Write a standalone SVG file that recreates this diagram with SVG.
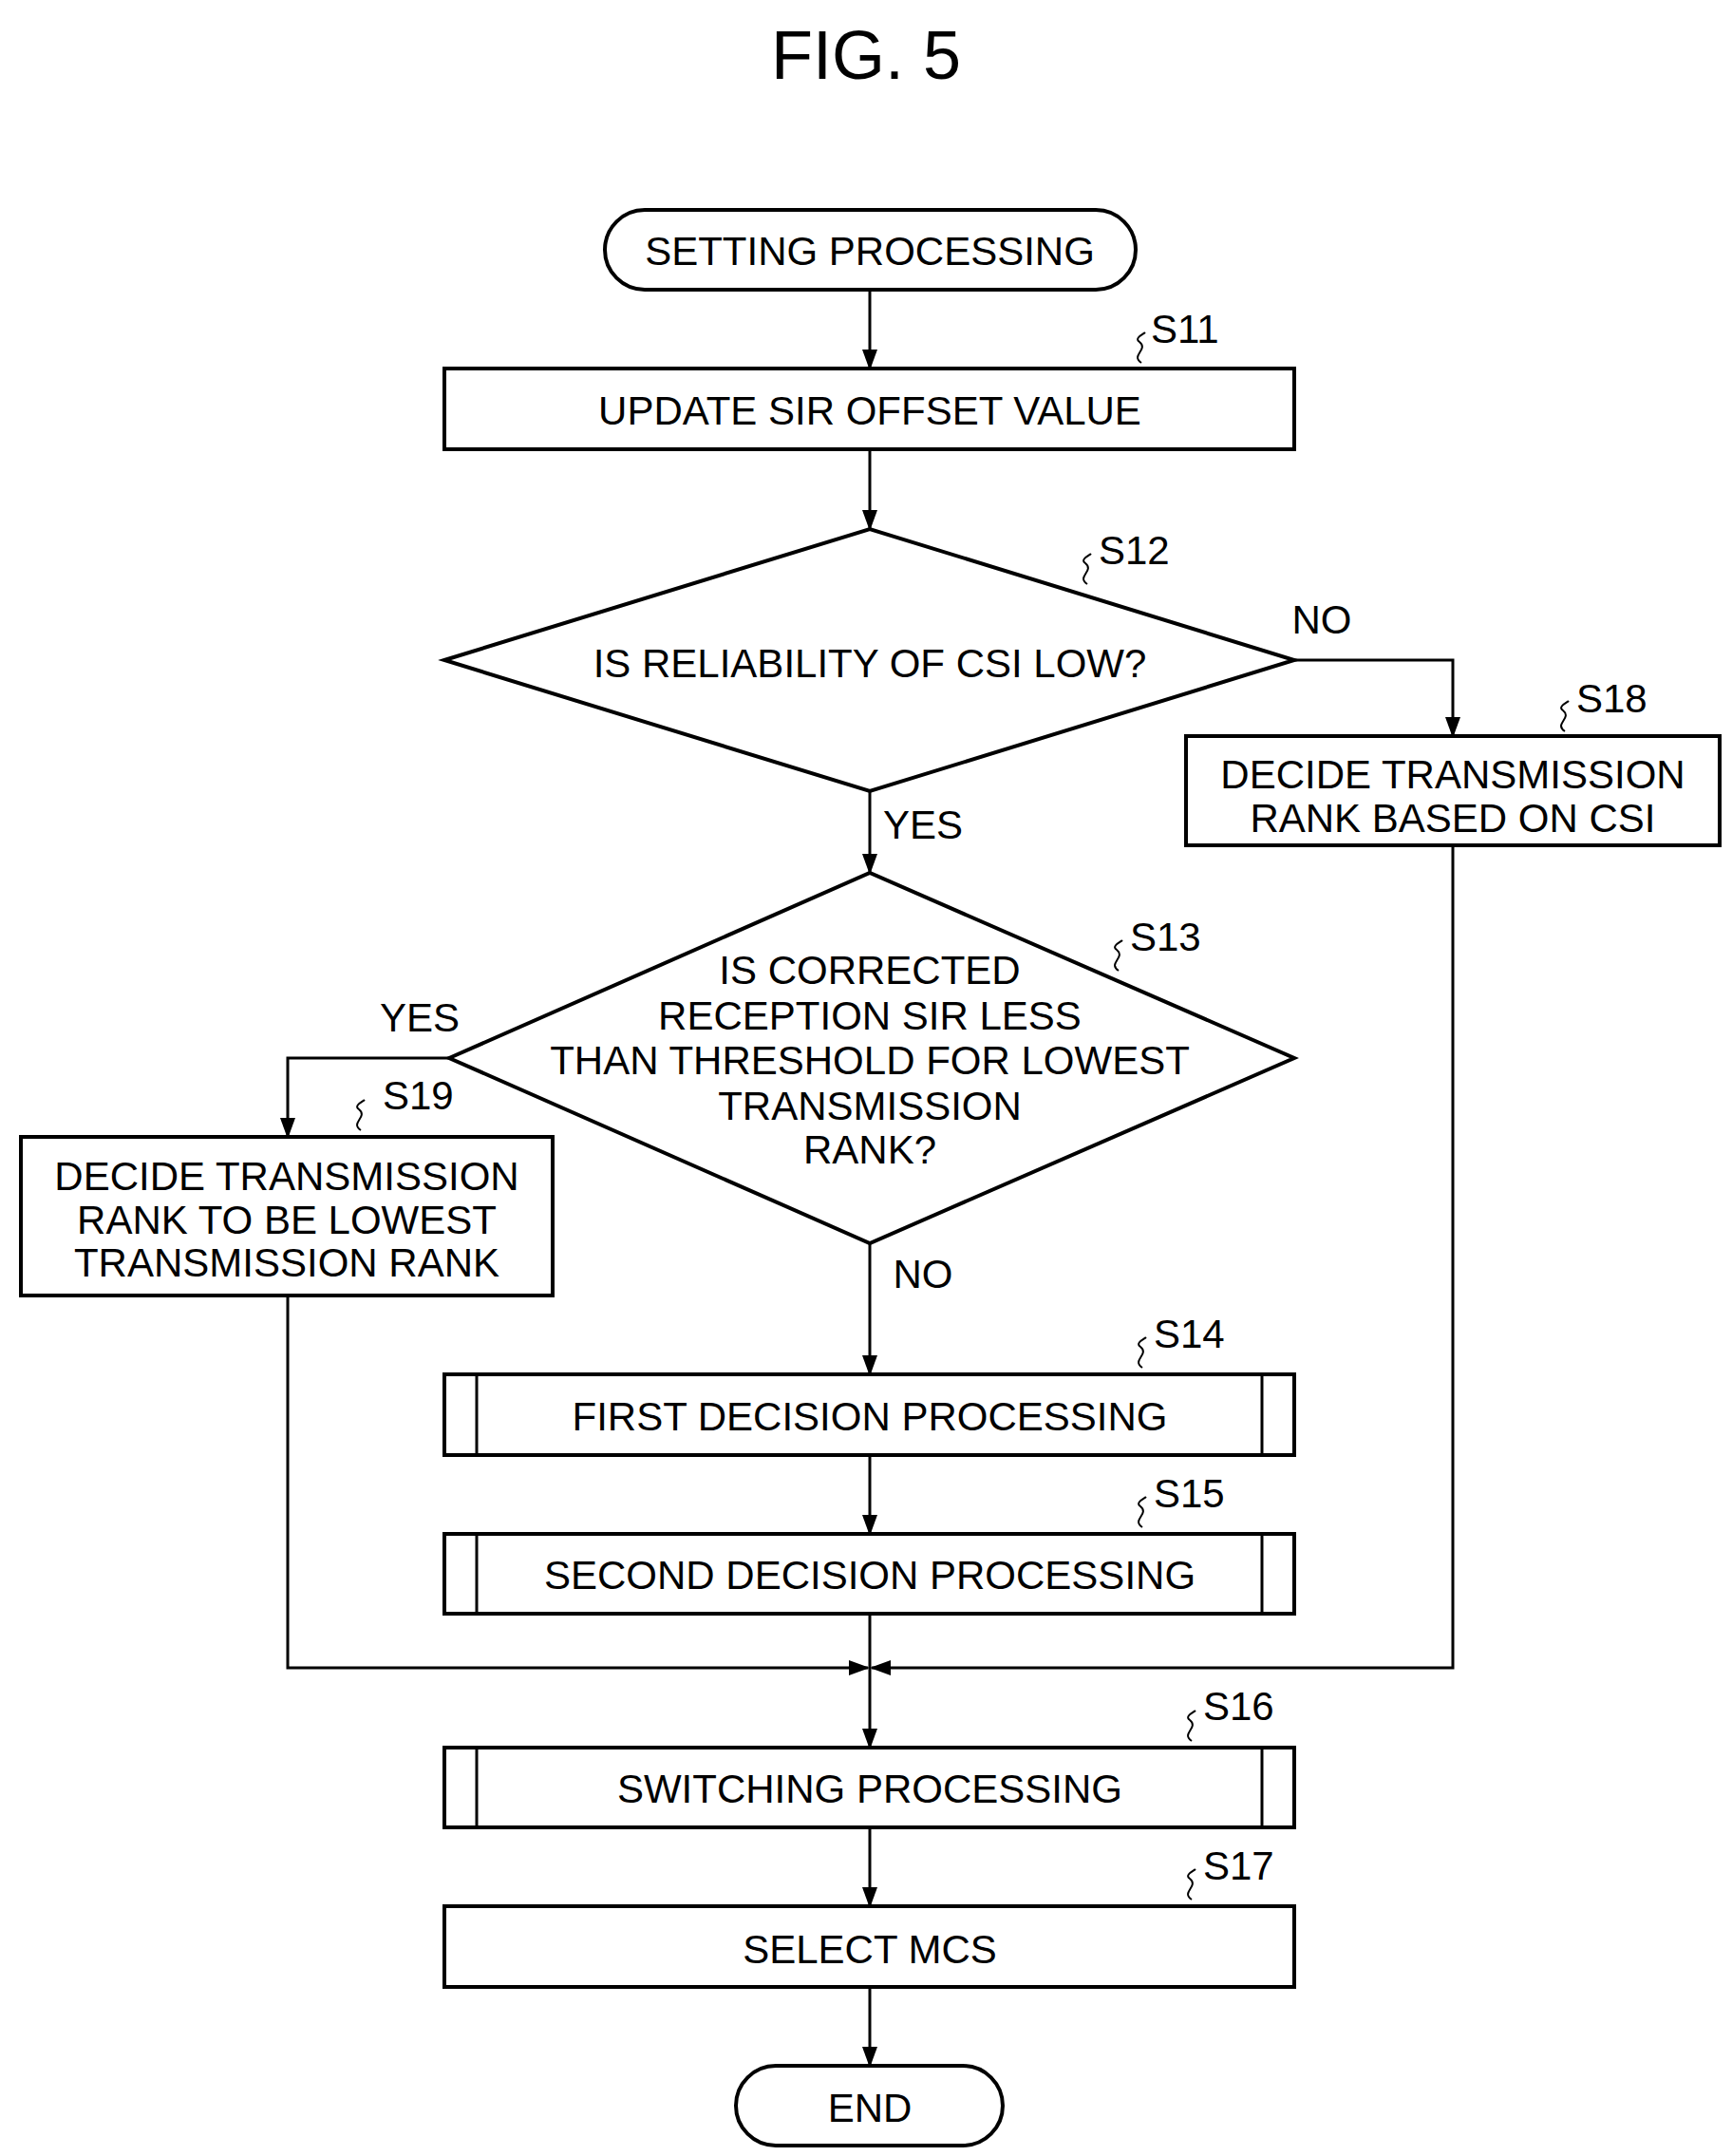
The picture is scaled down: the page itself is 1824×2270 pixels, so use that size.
<svg xmlns="http://www.w3.org/2000/svg" width="1824" height="2270" viewBox="0 0 1824 2270">
<style>
text{font-family:"Liberation Sans",Arial,sans-serif;font-size:42px;fill:#000;text-anchor:middle;dominant-baseline:central}
.b{fill:#fff;stroke:#000;stroke-width:4}
.l{fill:none;stroke:#000;stroke-width:3}
.s{fill:none;stroke:#000;stroke-width:2}
.lab{text-anchor:start}
</style>
<defs>
<marker id="ar" markerWidth="22" markerHeight="22" refX="20" refY="11" orient="auto" markerUnits="userSpaceOnUse"><path d="M0,3L22,11L0,19z" fill="#000"/></marker></defs>
<text x="912" y="58" style="font-size:72px">FIG. 5</text>
<g id="connectors">
<path class="l" d="M916,305V388" marker-end="url(#ar)"/>
<path class="l" d="M916,473V557" marker-end="url(#ar)"/>
<path class="l" d="M916,833V919" marker-end="url(#ar)"/>
<path class="l" d="M1363,695H1530V775" marker-end="url(#ar)"/>
<path class="l" d="M473,1114H303V1197" marker-end="url(#ar)"/>
<path class="l" d="M916,1309V1447" marker-end="url(#ar)"/>
<path class="l" d="M916,1532V1615" marker-end="url(#ar)"/>
<path class="l" d="M916,1699V1840" marker-end="url(#ar)"/>
<path class="l" d="M303,1364V1756H914" marker-end="url(#ar)"/>
<path class="l" d="M1530,890V1756H918" marker-end="url(#ar)"/>
<path class="l" d="M916,1924V2007" marker-end="url(#ar)"/>
<path class="l" d="M916,2092V2175" marker-end="url(#ar)"/>
<text x="1392" y="652">NO</text>
<text x="972" y="868">YES</text>
<text x="442" y="1071">YES</text>
<text x="972" y="1341">NO</text>
</g>
<g id="start"><rect class="b" x="637" y="221" width="559" height="84" rx="42"/><text x="916" y="264">SETTING PROCESSING</text></g>
<g id="S11"><rect class="b" x="468" y="388" width="895" height="85"/><text x="916" y="432">UPDATE SIR OFFSET VALUE</text><path class="s" d="M1202,382c-12,-8 8,-14 -2,-22c-6,-4 4,-8 6,-10"/><text class="lab" x="1212" y="346">S11</text></g>
<g id="S12"><polygon class="b" points="468,695 916,557 1363,695 916,833"/><text x="916" y="698">IS RELIABILITY OF CSI LOW?</text><path class="s" d="M1145,615c-12,-8 8,-14 -2,-22c-6,-4 4,-8 6,-10"/><text class="lab" x="1157" y="579">S12</text></g>
<g id="S18"><rect class="b" x="1249" y="775" width="562" height="115"/><text x="1530" y="815">DECIDE TRANSMISSION</text><text x="1530" y="861">RANK BASED ON CSI</text><path class="s" d="M1648,770c-12,-8 8,-14 -2,-22c-6,-4 4,-8 6,-10"/><text class="lab" x="1660" y="735">S18</text></g>
<g id="S13"><polygon class="b" points="473,1114 916,919 1363,1114 916,1309"/><text x="916" y="1021">IS CORRECTED</text><text x="916" y="1069">RECEPTION SIR LESS</text><text x="916" y="1116">THAN THRESHOLD FOR LOWEST</text><text x="916" y="1164">TRANSMISSION</text><text x="916" y="1210">RANK?</text><path class="s" d="M1178,1022c-12,-8 8,-14 -2,-22c-6,-4 4,-8 6,-10"/><text class="lab" x="1190" y="986">S13</text></g>
<g id="S19"><rect class="b" x="22" y="1197" width="560" height="167"/><text x="302" y="1238">DECIDE TRANSMISSION</text><text x="302" y="1284">RANK TO BE LOWEST</text><text x="302" y="1329">TRANSMISSION RANK</text><path class="s" d="M380,1190c-12,-8 8,-14 -2,-22c-6,-4 4,-8 6,-10"/><text class="lab" x="403" y="1153">S19</text></g>
<g id="S14"><rect class="b" x="468" y="1447" width="895" height="85"/><path class="l" d="M502,1447V1532M1329,1447V1532"/><text x="916" y="1491">FIRST DECISION PROCESSING</text><path class="s" d="M1203,1440c-12,-8 8,-14 -2,-22c-6,-4 4,-8 6,-10"/><text class="lab" x="1215" y="1404">S14</text></g>
<g id="S15"><rect class="b" x="468" y="1615" width="895" height="84"/><path class="l" d="M502,1615V1699M1329,1615V1699"/><text x="916" y="1658">SECOND DECISION PROCESSING</text><path class="s" d="M1203,1608c-12,-8 8,-14 -2,-22c-6,-4 4,-8 6,-10"/><text class="lab" x="1215" y="1572">S15</text></g>
<g id="S16"><rect class="b" x="468" y="1840" width="895" height="84"/><path class="l" d="M502,1840V1924M1329,1840V1924"/><text x="916" y="1883">SWITCHING PROCESSING</text><path class="s" d="M1255,1833c-12,-8 8,-14 -2,-22c-6,-4 4,-8 6,-10"/><text class="lab" x="1267" y="1796">S16</text></g>
<g id="S17"><rect class="b" x="468" y="2007" width="895" height="85"/><text x="916" y="2052">SELECT MCS</text><path class="s" d="M1255,2000c-12,-8 8,-14 -2,-22c-6,-4 4,-8 6,-10"/><text class="lab" x="1267" y="1964">S17</text></g>
<g id="end"><rect class="b" x="775" y="2175" width="281" height="84" rx="42"/><text x="916" y="2219">END</text></g>
</svg>
